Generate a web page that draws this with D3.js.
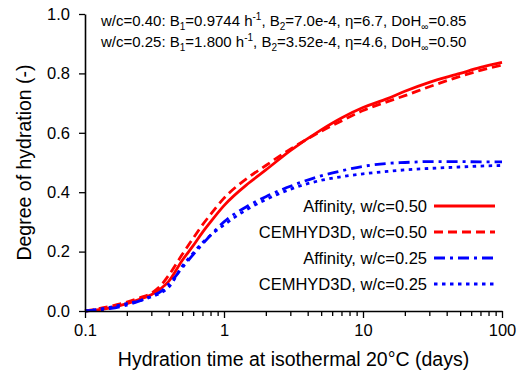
<!DOCTYPE html>
<html>
<head>
<meta charset="utf-8">
<script src="https://cdn.jsdelivr.net/npm/d3@7"></script>
<style>
  body { margin: 0; background: #fff; }
  svg { font-family: "Liberation Sans", Arial, sans-serif; }
</style>
</head>
<body>
<div id="chart"></div>
<script>
// hydration time (days) and degree of hydration
const times = [0.1, 0.15, 0.2, 0.25, 0.3, 0.35, 0.4, 0.5, 0.6, 0.7, 0.8, 1, 1.5, 2, 3, 5, 7, 10, 15, 20, 30, 50, 70, 100];
const affinity50 = [0.0, 0.01, 0.025, 0.04, 0.055, 0.075, 0.10, 0.17, 0.22, 0.265, 0.30, 0.355, 0.43, 0.475, 0.54, 0.61, 0.65, 0.685, 0.715, 0.74, 0.77, 0.80, 0.82, 0.837];
const cemhyd50 = [0.0, 0.015, 0.03, 0.045, 0.06, 0.085, 0.12, 0.19, 0.245, 0.29, 0.325, 0.38, 0.45, 0.49, 0.545, 0.605, 0.64, 0.675, 0.705, 0.725, 0.755, 0.79, 0.81, 0.828];
const affinity25 = [0.0, 0.008, 0.02, 0.035, 0.05, 0.065, 0.09, 0.145, 0.19, 0.225, 0.255, 0.30, 0.355, 0.385, 0.42, 0.455, 0.472, 0.487, 0.497, 0.50, 0.503, 0.503, 0.502, 0.502];
const cemhyd25 = [0.0, 0.012, 0.025, 0.035, 0.048, 0.06, 0.08, 0.15, 0.195, 0.23, 0.255, 0.29, 0.345, 0.375, 0.41, 0.44, 0.452, 0.462, 0.47, 0.475, 0.48, 0.485, 0.488, 0.49];

const seriesNames = ["Affinity, w/c=0.50", "CEMHYD3D, w/c=0.50", "Affinity, w/c=0.25", "CEMHYD3D, w/c=0.25"];
const xTicks = [0.1, 1, 10, 100];
const yTicks = [0, 0.2, 0.4, 0.6, 0.8, 1.0];

const width = 517, height = 374;
const margin = {top: 14, right: 15, bottom: 63, left: 85};

const svg = d3.select("#chart").append("svg")
    .attr("width", width)
    .attr("height", height);

const x = d3.scaleLog()
    .domain([0.1, 100])
    .range([margin.left, width - margin.right]);

const y = d3.scaleLinear()
    .domain([0, 1])
    .range([height - margin.bottom, margin.top]);

// series styles
const styles = [
    {values: affinity50, color: "#ff0000", dash: null},
    {values: cemhyd50, color: "#ff0000", dash: "9,5"},
    {values: affinity25, color: "#0000ff", dash: "11,5,3,5"},
    {values: cemhyd25, color: "#0000ff", dash: "3.5,4.5"}
];

const line = d3.line()
    .x(d => x(d[0]))
    .y(d => y(d[1]))
    .curve(d3.curveMonotoneX);

styles.forEach(s => {
    svg.append("path")
        .datum(times.map((t, i) => [t, s.values[i]]))
        .attr("fill", "none")
        .attr("stroke", s.color)
        .attr("stroke-width", 2.8)
        .attr("stroke-dasharray", s.dash)
        .attr("d", line);
});

// x axis: major ticks labelled, minor ticks unlabelled
const minorTicks = [];
for (let dec = 0.1; dec < 100; dec *= 10) {
    for (let k = 2; k <= 9; k++) minorTicks.push(+(dec * k).toPrecision(3));
}

const xAxisG = svg.append("g")
    .attr("transform", "translate(0," + y(0) + ")");

xAxisG.append("g")
    .call(d3.axisBottom(x).tickValues(minorTicks).tickSize(5).tickFormat(""))
    .call(g => g.select(".domain").remove())
    .selectAll("line").attr("stroke-width", 1.3);

xAxisG.append("g")
    .call(d3.axisBottom(x).tickValues(xTicks).tickSize(7).tickSizeOuter(0).tickPadding(6)
        .tickFormat(d => d3.format("~g")(d)))
    .call(g => g.select(".domain").attr("stroke-width", 1.6))
    .call(g => g.selectAll("line").attr("stroke-width", 1.3))
    .call(g => g.selectAll("text").attr("font-size", 16.5).attr("fill", "#000")
        .attr("font-family", "Liberation Sans, Arial, sans-serif"));

// y axis
svg.append("g")
    .attr("transform", "translate(" + x(0.1) + ",0)")
    .call(d3.axisLeft(y).tickValues(yTicks).tickSize(6).tickSizeOuter(0).tickPadding(9)
        .tickFormat(d3.format(".1f")))
    .call(g => g.select(".domain").attr("stroke-width", 1.6))
    .call(g => g.selectAll("line").attr("stroke-width", 1.3))
    .call(g => g.selectAll("text").attr("font-size", 16.5).attr("fill", "#000")
        .attr("font-family", "Liberation Sans, Arial, sans-serif"));

// axis titles
svg.append("text")
    .attr("x", (x(0.1) + x(100)) / 2)
    .attr("y", 366)
    .attr("text-anchor", "middle")
    .attr("font-size", 19.5)
    .text("Hydration time at isothermal 20\u00B0C (days)");

svg.append("text")
    .attr("transform", "translate(31," + y(0.5) + ") rotate(-90)")
    .attr("text-anchor", "middle")
    .attr("font-size", 19.5)
    .text("Degree of hydration (-)");

// model parameter annotation
function paramLine(yPos, parts) {
    const t = svg.append("text").attr("x", 101).attr("y", yPos).attr("font-size", 15);
    parts.forEach(p => {
        if (p.sub) {
            t.append("tspan").attr("font-size", 10).attr("dy", 4).text(p.sub);
            t.append("tspan").attr("dy", -4).text(p.after);
        } else if (p.sup) {
            t.append("tspan").attr("font-size", 10).attr("dy", -6).text(p.sup);
            t.append("tspan").attr("dy", 6).text(p.after);
        } else {
            t.append("tspan").text(p.text);
        }
    });
}
paramLine(26, [
    {text: "w/c=0.40: B"}, {sub: "1", after: "=0.9744 h"}, {sup: "-1", after: ", B"},
    {sub: "2", after: "=7.0e-4, \u03B7=6.7, DoH"}, {sub: "\u221E", after: "=0.85"}
]);
paramLine(47, [
    {text: "w/c=0.25: B"}, {sub: "1", after: "=1.800 h"}, {sup: "-1", after: ", B"},
    {sub: "2", after: "=3.52e-4, \u03B7=4.6, DoH"}, {sub: "\u221E", after: "=0.50"}
]);

// legend
const legend = svg.append("g");
seriesNames.forEach((name, i) => {
    const ly = 206 + i * 26;
    legend.append("text")
        .attr("x", 427)
        .attr("y", ly)
        .attr("dy", "0.35em")
        .attr("text-anchor", "end")
        .attr("font-size", 16.5)
        .text(name);
    legend.append("line")
        .attr("x1", 434).attr("x2", 495)
        .attr("y1", ly).attr("y2", ly)
        .attr("stroke", styles[i].color)
        .attr("stroke-width", 2.8)
        .attr("stroke-dasharray", styles[i].dash);
});
</script>
</body>
</html>
